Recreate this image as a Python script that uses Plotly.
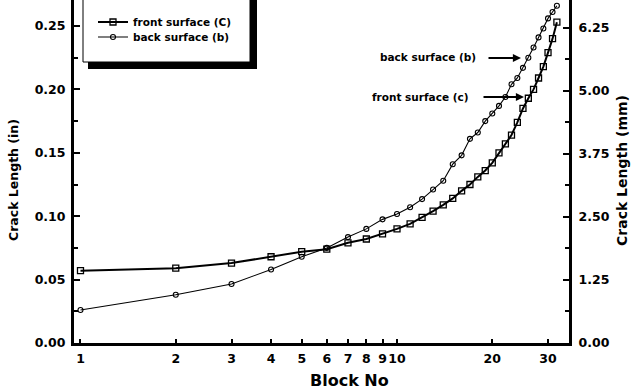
import plotly.graph_objects as go

blocks = list(range(1, 33))
front_in = [0.057, 0.059, 0.063, 0.068, 0.072, 0.074, 0.079, 0.082, 0.086, 0.090,
            0.094, 0.099, 0.104, 0.109, 0.114, 0.120, 0.125, 0.131, 0.136, 0.142,
            0.150, 0.157, 0.164, 0.174, 0.185, 0.193, 0.200, 0.209, 0.218, 0.229,
            0.240, 0.253]
back_in = [0.026, 0.038, 0.0465, 0.058, 0.068, 0.075, 0.0835, 0.090, 0.0975, 0.1017,
           0.107, 0.1135, 0.121, 0.128, 0.141, 0.148, 0.161, 0.166, 0.175, 0.181,
           0.187, 0.194, 0.204, 0.209, 0.217, 0.225, 0.233, 0.241, 0.248, 0.256,
           0.261, 0.266]
x_ticks = [1, 2, 3, 4, 5, 6, 7, 8, 9, 10, 20, 30]
y_ticks_in = [0.00, 0.05, 0.10, 0.15, 0.20, 0.25]
y_ticks_mm = [0.00, 1.25, 2.50, 3.75, 5.00, 6.25]

W, H = 632, 392
L, R, T, B = 74, 63, 0, 49
PW, PH = W - L - R, H - T - B

def px(xp):
    return (xp - L) / PW

def py(yp):
    return (H - B - yp) / PH

FONT = "DejaVu Sans"

fig = go.Figure()
fig.add_trace(go.Scatter(
    x=blocks, y=front_in, mode="lines+markers", name="front surface (C)",
    line=dict(color="black", width=2),
    marker=dict(symbol="square-open", size=6, color="black", line=dict(width=1.3)),
    legend="legend"))
fig.add_trace(go.Scatter(
    x=blocks, y=back_in, mode="lines+markers", name="back surface (b)",
    line=dict(color="black", width=1.1),
    marker=dict(symbol="circle-open", size=5, color="black", line=dict(width=1.1)),
    legend="legend2"))

axfont = dict(family=FONT, size=12.5, color="black", weight="bold")

fig.update_layout(
    width=W, height=H,
    margin=dict(l=L, r=R, t=T, b=B, pad=0),
    paper_bgcolor="white", plot_bgcolor="white",
    xaxis=dict(type="log", range=[-0.0205, 1.5434], showline=True, linecolor="black",
               linewidth=2.5, ticks="inside", ticklen=4, tickwidth=1.5, tickcolor="black",
               tickvals=x_ticks, ticktext=[str(v) for v in x_ticks], tickfont=axfont,
               tickangle=0, showgrid=False, zeroline=False, ticklabelstandoff=2),
    yaxis=dict(range=[0, 0.2705], showline=True, linecolor="black", linewidth=3,
               ticks="inside", ticklen=6, tickwidth=1.5, tickcolor="black",
               tickvals=y_ticks_in, tickformat=".2f", tickfont=axfont,
               minor=dict(ticks="inside", ticklen=4, tickwidth=1.5, tickcolor="black", dtick=0.025),
               showgrid=False, zeroline=False, ticklabelstandoff=3),
    yaxis2=dict(range=[0, 6.80], overlaying="y", side="right", showline=True,
                linecolor="black", linewidth=3, ticks="inside", ticklen=6, tickwidth=1.5,
                tickcolor="black", tickvals=y_ticks_mm, tickformat=".2f", tickfont=axfont,
                minor=dict(ticks="inside", ticklen=4, tickwidth=1.5, tickcolor="black", dtick=0.625),
                showgrid=False, zeroline=False, ticklabelstandoff=4),
    legend=dict(x=px(93), y=py(22), xanchor="left", yanchor="middle",
                bgcolor="rgba(0,0,0,0)", borderwidth=0,
                font=dict(family=FONT, size=10.5, color="black", weight="bold")),
    legend2=dict(x=px(93), y=py(37), xanchor="left", yanchor="middle",
                 bgcolor="rgba(0,0,0,0)", borderwidth=0,
                 font=dict(family=FONT, size=10.5, color="black", weight="bold")),
    showlegend=True,
)

# invisible helper trace so the right-hand (mm) axis is drawn
fig.add_trace(go.Scatter(x=[blocks[0]], y=[front_in[0] * 25], yaxis="y2", mode="markers",
                         marker=dict(opacity=0), showlegend=False, hoverinfo="skip"))

# legend box with shadow
fig.add_shape(type="rect", xref="paper", yref="paper", x0=px(88), x1=px(257), y0=py(69), y1=py(-10),
              fillcolor="black", line=dict(width=0), layer="above")
fig.add_shape(type="rect", xref="paper", yref="paper", x0=px(83), x1=px(250), y0=py(62), y1=py(-10),
              fillcolor="white", line=dict(color="black", width=1), layer="above")

afont = dict(family=FONT, size=10.5, color="black", weight="bold")
fig.add_annotation(xref="paper", yref="paper", x=px(478), y=py(57), text="back surface (b)",
                   showarrow=False, xanchor="right", yanchor="middle", font=afont)
fig.add_annotation(xref="paper", yref="paper", x=px(521), y=py(58), text="",
                   showarrow=True, ax=-34, ay=0, arrowhead=2, arrowsize=0.9, arrowwidth=1.8,
                   arrowcolor="black")
fig.add_annotation(xref="paper", yref="paper", x=px(471), y=py(97), text="front surface (c)",
                   showarrow=False, xanchor="right", yanchor="middle", font=afont)
fig.add_annotation(xref="paper", yref="paper", x=px(524), y=py(97), text="",
                   showarrow=True, ax=-42, ay=0, arrowhead=2, arrowsize=0.9, arrowwidth=1.8,
                   arrowcolor="black")

# axis titles
fig.add_annotation(xref="paper", yref="paper", x=px(349), y=py(392), text="Block No",
                   showarrow=False, xanchor="center", yanchor="bottom",
                   font=dict(family=FONT, size=16, color="black", weight="bold"))
fig.add_annotation(xref="paper", yref="paper", x=px(14), y=py(180), text="Crack Length (in)",
                   showarrow=False, xanchor="center", yanchor="middle", textangle=-90,
                   font=dict(family=FONT, size=12.5, color="black", weight="bold"))
fig.add_annotation(xref="paper", yref="paper", x=px(622), y=py(171), text="Crack Length (mm)",
                   showarrow=False, xanchor="center", yanchor="middle", textangle=-90,
                   font=dict(family=FONT, size=14, color="black", weight="bold"))

fig.write_html("out.html")
